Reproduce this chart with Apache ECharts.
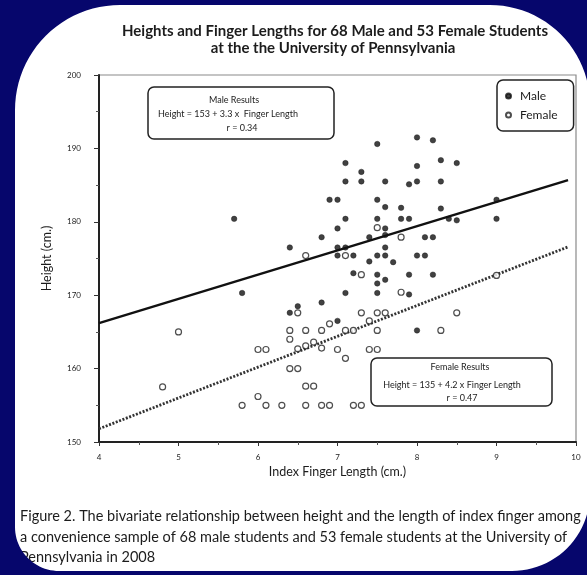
<!DOCTYPE html>
<html>
<head>
<meta charset="utf-8">
<style>
  html, body { margin: 0; padding: 0; background: #06066c; }
  #chart { width: 587px; height: 575px; }
</style>
<script src="https://cdn.jsdelivr.net/npm/echarts@6/dist/echarts.min.js"></script>
</head>
<body>
<div id="chart"></div>
<script>
// Index finger length (cm) and height (cm) per student
const maleFinger = [5.7, 5.8, 6.4, 6.4, 6.5, 6.8, 6.8, 6.9, 7.0, 7.0, 7.0, 7.0, 7.0,
  7.1, 7.1, 7.1, 7.1, 7.1, 7.2, 7.2, 7.3, 7.3, 7.4, 7.4,
  7.5, 7.5, 7.5, 7.5, 7.5, 7.5, 7.5, 7.6, 7.6, 7.6, 7.6, 7.6, 7.6, 7.6,
  7.7, 7.8, 7.8, 7.9, 7.9, 7.9, 7.9, 8.0, 8.0, 8.0, 8.0, 8.0,
  8.1, 8.1, 8.2, 8.2, 8.2, 8.3, 8.3, 8.3, 8.4, 8.5, 8.5, 9.0, 9.0];
const maleHeight = [180.4, 170.3, 176.5, 167.6, 168.5, 177.9, 169.0, 183.0, 183.0, 179.1, 176.5, 175.4, 166.5,
  188.0, 185.5, 180.4, 176.5, 170.3, 175.4, 173.0, 186.8, 185.5, 177.9, 174.6,
  190.6, 183.0, 180.4, 175.4, 172.8, 171.6, 170.3, 185.5, 182.0, 179.1, 178.2, 176.5, 175.4, 172.1,
  174.5, 181.9, 180.4, 185.1, 180.4, 172.8, 170.1, 191.5, 187.6, 185.5, 175.4, 165.2,
  177.9, 175.4, 191.1, 177.9, 172.8, 188.4, 185.5, 181.8, 180.4, 188.0, 180.2, 183.0, 180.4];

const femaleFinger = [4.8, 5.0, 5.8, 6.0, 6.0, 6.1, 6.1, 6.3, 6.4, 6.4, 6.4, 6.5, 6.5, 6.5,
  6.6, 6.6, 6.6, 6.6, 6.6, 6.7, 6.7, 6.8, 6.8, 6.8, 6.9, 6.9, 7.0,
  7.1, 7.1, 7.1, 7.2, 7.2, 7.3, 7.3, 7.3, 7.4, 7.4,
  7.5, 7.5, 7.5, 7.5, 7.6, 7.8, 7.8, 8.3, 8.5, 9.0];
const femaleHeight = [157.5, 165.0, 155.0, 162.6, 156.2, 162.6, 155.0, 155.0, 165.2, 164.0, 160.0, 167.6, 162.7, 160.0,
  175.4, 165.2, 163.1, 157.6, 155.0, 163.6, 157.6, 165.2, 162.8, 155.0, 166.1, 155.0, 162.6,
  175.4, 165.2, 161.4, 165.2, 155.0, 172.8, 167.6, 155.0, 166.5, 162.6,
  179.2, 167.6, 165.2, 162.6, 167.6, 177.9, 170.4, 165.2, 167.6, 172.7];

// Fitted lines: Height = intercept + slope * Finger Length
const fitIntercept = { Male: 153, Female: 135 };
const fitSlope = { Male: 3.3, Female: 4.2 };
const fitRange = [4, 9.9];
const fitR = { Male: '0.34', Female: '0.47' };

const xTicks = { min: 4, max: 10, step: 1 };
const yTicks = { min: 150, max: 200, step: 10 };

const FONT = 'Lato, "Open Sans", sans-serif';
const INK = '#1c1c1c';
const NAVY = '#06066c';

function pairs(xs, ys) { return xs.map((x, i) => [x, ys[i]]); }
function fitLine(key) {
  return fitRange.map(x => [x, fitIntercept[key] + fitSlope[key] * x]);
}

// Navy surround: one keyhole polygon (outer box, then the rounded sheet
// traced the other way round) so the white sheet stays open.
function arcPts(cx, cy, r, a0, a1) {
  const pts = [];
  const n = 24;
  for (let i = 0; i <= n; i++) {
    const a = a0 + (a1 - a0) * i / n;
    pts.push([cx + r * Math.cos(a), cy + r * Math.sin(a)]);
  }
  return pts;
}
function framePoints() {
  const L = 15, T = 5, R = 590, B = 571;
  const rTL = 105, rTR = 100, rBR = 78, rBL = 44;
  const P = Math.PI;
  let inner = [[R - rTR, T]];
  inner = inner.concat(arcPts(L + rTL, T + rTL, rTL, -P / 2, -P));
  inner = inner.concat(arcPts(L + rBL, B - rBL, rBL, P, P / 2));
  inner = inner.concat(arcPts(R - rBR, B - rBR, rBR, P / 2, 0));
  inner = inner.concat(arcPts(R - rTR, T + rTR, rTR, 0, -P / 2));
  const outer = [[R - rTR, -30], [620, -30], [620, 610], [-30, 610], [-30, -30], [R - rTR, -30]];
  return outer.concat(inner).concat([[R - rTR, -30]]);
}

function resultBox(x, y, w, h, lines) {
  return {
    type: 'group', z: 20,
    children: [
      { type: 'rect', shape: { x: x, y: y, width: w, height: h, r: 6 },
        style: { fill: '#fff', stroke: '#222', lineWidth: 1.5 } }
    ].concat(lines.map(l => ({
      type: 'text',
      style: { x: l.x, y: l.y, text: l.text, fill: INK, font: '9px ' + FONT,
               align: 'center', verticalAlign: 'middle' }
    })))
  };
}

const chart = echarts.init(document.getElementById('chart'), null, { renderer: 'canvas' });

const option = {
  backgroundColor: '#ffffff',
  animation: false,
  grid: { left: 99, right: 11, top: 75, bottom: 133, show: true,
          borderColor: '#8a8a8a', borderWidth: 1.2, containLabel: false },
  xAxis: {
    type: 'value', min: xTicks.min, max: xTicks.max, interval: xTicks.step,
    name: 'Index Finger Length (cm.)', nameLocation: 'middle', nameGap: 23,
    nameTextStyle: { fontFamily: FONT, fontSize: 12.5, color: INK },
    axisLine: { show: true, lineStyle: { color: '#222', width: 2 } },
    axisTick: { show: true, length: 4, lineStyle: { color: '#333' } },
    minorTick: { show: true, splitNumber: 2, length: 3, lineStyle: { color: '#555' } },
    axisLabel: { fontFamily: FONT, fontSize: 8, color: INK, margin: 11 },
    splitLine: { show: false }
  },
  yAxis: {
    type: 'value', min: yTicks.min, max: yTicks.max, interval: yTicks.step,
    name: 'Height (cm.)', nameLocation: 'middle', nameGap: 46, nameRotate: 90,
    nameTextStyle: { fontFamily: FONT, fontSize: 12.5, color: INK },
    axisLine: { show: true, lineStyle: { color: '#222', width: 2 } },
    axisTick: { show: true, length: 5, lineStyle: { color: '#333' } },
    minorTick: { show: true, splitNumber: 2, length: 3, lineStyle: { color: '#555' } },
    axisLabel: { fontFamily: FONT, fontSize: 8, color: INK, margin: 18 },
    splitLine: { show: false }
  },
  legend: {
    orient: 'vertical', left: 497, top: 80,
    backgroundColor: '#fff', borderColor: '#222', borderWidth: 1.5, borderRadius: 6,
    padding: [10, 16, 10, 8], itemGap: 7, itemWidth: 5, itemHeight: 5,
    textStyle: { fontFamily: FONT, fontSize: 12, color: INK, padding: [0, 0, 0, 4] },
    data: ['Male', 'Female']
  },
  series: [
    {
      name: 'Male', type: 'scatter', symbol: 'circle', symbolSize: 5.5, z: 5,
      itemStyle: { color: '#111', borderColor: '#111', borderWidth: 0.5 },
      data: pairs(maleFinger, maleHeight)
    },
    {
      name: 'Female', type: 'scatter', symbol: 'circle', symbolSize: 6, z: 5,
      itemStyle: { color: '#fff', borderColor: '#222', borderWidth: 1.2 },
      data: pairs(femaleFinger, femaleHeight)
    },
    {
      name: 'Male fit', type: 'line', showSymbol: false, silent: true, z: 3,
      lineStyle: { color: '#111', width: 2.4 },
      data: fitLine('Male')
    },
    {
      name: 'Female fit', type: 'line', showSymbol: false, silent: true, z: 3,
      lineStyle: { color: '#333', width: 2.8, type: [2, 1.6], cap: 'butt' },
      data: fitLine('Female')
    }
  ],
  graphic: [
    { type: 'text', z: 20,
      style: { x: 335, y: 31, text: 'Heights and Finger Lengths for 68 Male and 53 Female Students',
               fill: INK, font: 'bold 15px ' + FONT, align: 'center', verticalAlign: 'middle' } },
    { type: 'text', z: 20,
      style: { x: 333, y: 48, text: 'at the the University of Pennsylvania',
               fill: INK, font: 'bold 15px ' + FONT, align: 'center', verticalAlign: 'middle' } },
    resultBox(148, 87, 186, 52, [
      { x: 234, y: 100, text: 'Male Results' },
      { x: 228, y: 114, text: 'Height = 153 + 3.3 x  Finger Length' },
      { x: 242, y: 128, text: 'r = ' + fitR.Male }
    ]),
    resultBox(371, 358, 181, 48, [
      { x: 460, y: 367, text: 'Female Results' },
      { x: 452, y: 385, text: 'Height = 135 + 4.2 x Finger Length' },
      { x: 462, y: 398, text: 'r = ' + fitR.Female }
    ]),
    { type: 'text', z: 20,
      style: { x: 20, y: 516, text: 'Figure 2. The bivariate relationship between height and the length of index finger among',
               fill: INK, font: '14.5px ' + FONT, align: 'left', verticalAlign: 'middle' } },
    { type: 'text', z: 20,
      style: { x: 20, y: 537, text: 'a convenience sample of 68 male students and 53 female students at the University of',
               fill: INK, font: '14.5px ' + FONT, align: 'left', verticalAlign: 'middle' } },
    { type: 'text', z: 20,
      style: { x: 20, y: 557, text: 'Pennsylvania in 2008',
               fill: INK, font: '14.5px ' + FONT, align: 'left', verticalAlign: 'middle' } },
    { type: 'polygon', z: 100, silent: true,
      shape: { points: framePoints() },
      style: { fill: NAVY } }
  ]
};

chart.setOption(option);
</script>
</body>
</html>
